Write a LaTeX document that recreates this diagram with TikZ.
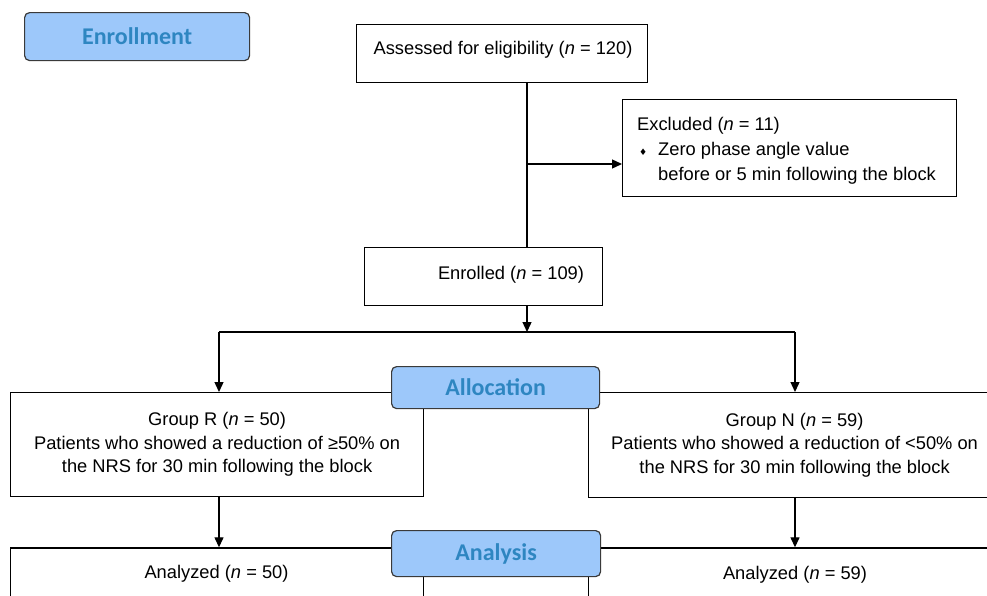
\documentclass[tikz,border=0pt]{standalone}
\usepackage{fontspec}
\setmainfont{Liberation Sans}
\newfontfamily\labelfont{Carlito}
\newfontfamily\symfont{DejaVu Sans}
\usetikzlibrary{arrows.meta}
\definecolor{lblfill}{HTML}{9DC8FA}
\definecolor{lbltext}{HTML}{2E86C1}
\definecolor{lbldraw}{HTML}{3A3A3A}
\begin{document}
\begin{tikzpicture}[x=1pt,y=-1pt,
  box/.style={draw=black, line width=1.2pt, fill=white, inner sep=0pt,
    font=\fontsize{18.3}{23.5}\selectfont, align=center, anchor=north west},
  lbl/.style={draw=lbldraw, line width=1.2pt, fill=lblfill, rounded corners=5pt,
    inner sep=0pt, text=lbltext, anchor=north west,
    font=\labelfont\bfseries\fontsize{24}{28}\selectfont},
  txt/.style={inner sep=0pt, font=\fontsize{18.3}{25}\selectfont},
  conn/.style={line width=1.3pt},
  arr/.style={conn, -{Triangle[length=10pt,width=9pt]}}]
\useasboundingbox (0,0) rectangle (987,595);
\clip (0,0) rectangle (987,595);

% Enrollment
\node[lbl, minimum width=225pt, minimum height=48pt] (enrl) at (24,12) {Enrollment};

% Assessed
\node[box, minimum width=291pt, minimum height=58pt] (assess) at (356,24) {};
\node[txt, anchor=base] (assesst) at (503,54.3) {Assessed for eligibility (\textit{n} = 120)};

% Excluded
\node[box, minimum width=334pt, minimum height=97pt] (excl) at (622,99) {};
\node[txt, anchor=base west, align=left] (exclt) at (637,180)
  {Excluded (\textit{n} = 11)\\
   \makebox[21pt][l]{\hspace{2pt}\symfont\fontsize{9}{9}\selectfont ♦}Zero phase angle value\\
   \hspace*{21pt}before or 5 min following the block};

% Enrolled
\node[box, minimum width=238pt, minimum height=58pt] (enrol) at (364,247) {};
\node[txt, anchor=base] (enrolt) at (511,279.3) {Enrolled (\textit{n} = 109)};

% Groups
\node[box, minimum width=413pt, minimum height=104pt] (grpR) at (10,392)
  {Group R (\textit{n} = 50)\\Patients who showed a reduction of ≥50\% on\\the NRS for 30 min following the block};
\node[box, minimum width=412pt, minimum height=105pt] (grpN) at (588,392)
  {Group N (\textit{n} = 59)\\Patients who showed a reduction of <50\% on\\the NRS for 30 min following the block};

% Analyzed
\node[box, minimum width=413pt, minimum height=80pt] (anR) at (10,547.3) {};
\node[txt, anchor=base] (anRt) at (216.5,578.3) {Analyzed (\textit{n} = 50)};
\node[box, minimum width=412pt, minimum height=80pt] (anN) at (588,547.3) {};
\node[txt, anchor=base] (anNt) at (795,579.5) {Analyzed (\textit{n} = 59)};

% Section labels
\node[lbl, minimum width=208pt, minimum height=42pt] (alloc) at (391,366) {Allocation};
\node[lbl, minimum width=209pt, minimum height=46pt] (analys) at (391,530) {Analysis};

% Connectors
\coordinate (vx) at (527,0);
\coordinate (ex) at (527,164);
\coordinate (split) at (527,332);
\coordinate (lx) at (219,332);
\coordinate (rx) at (795,332);
\draw[conn] (assess.south -| vx) -- (enrol.north -| vx);
\draw[arr] (ex) -- (ex -| excl.west);
\draw[arr] (enrol.south -| vx) -- (split);
\draw[conn] (lx) -- (rx);
\draw[arr] (lx) -- (lx |- grpR.north);
\draw[arr] (rx) -- (rx |- grpN.north);
\draw[arr] (lx |- grpR.south) -- (lx |- anR.north);
\draw[arr] (rx |- grpN.south) -- (rx |- anN.north);
\end{tikzpicture}
\end{document}
